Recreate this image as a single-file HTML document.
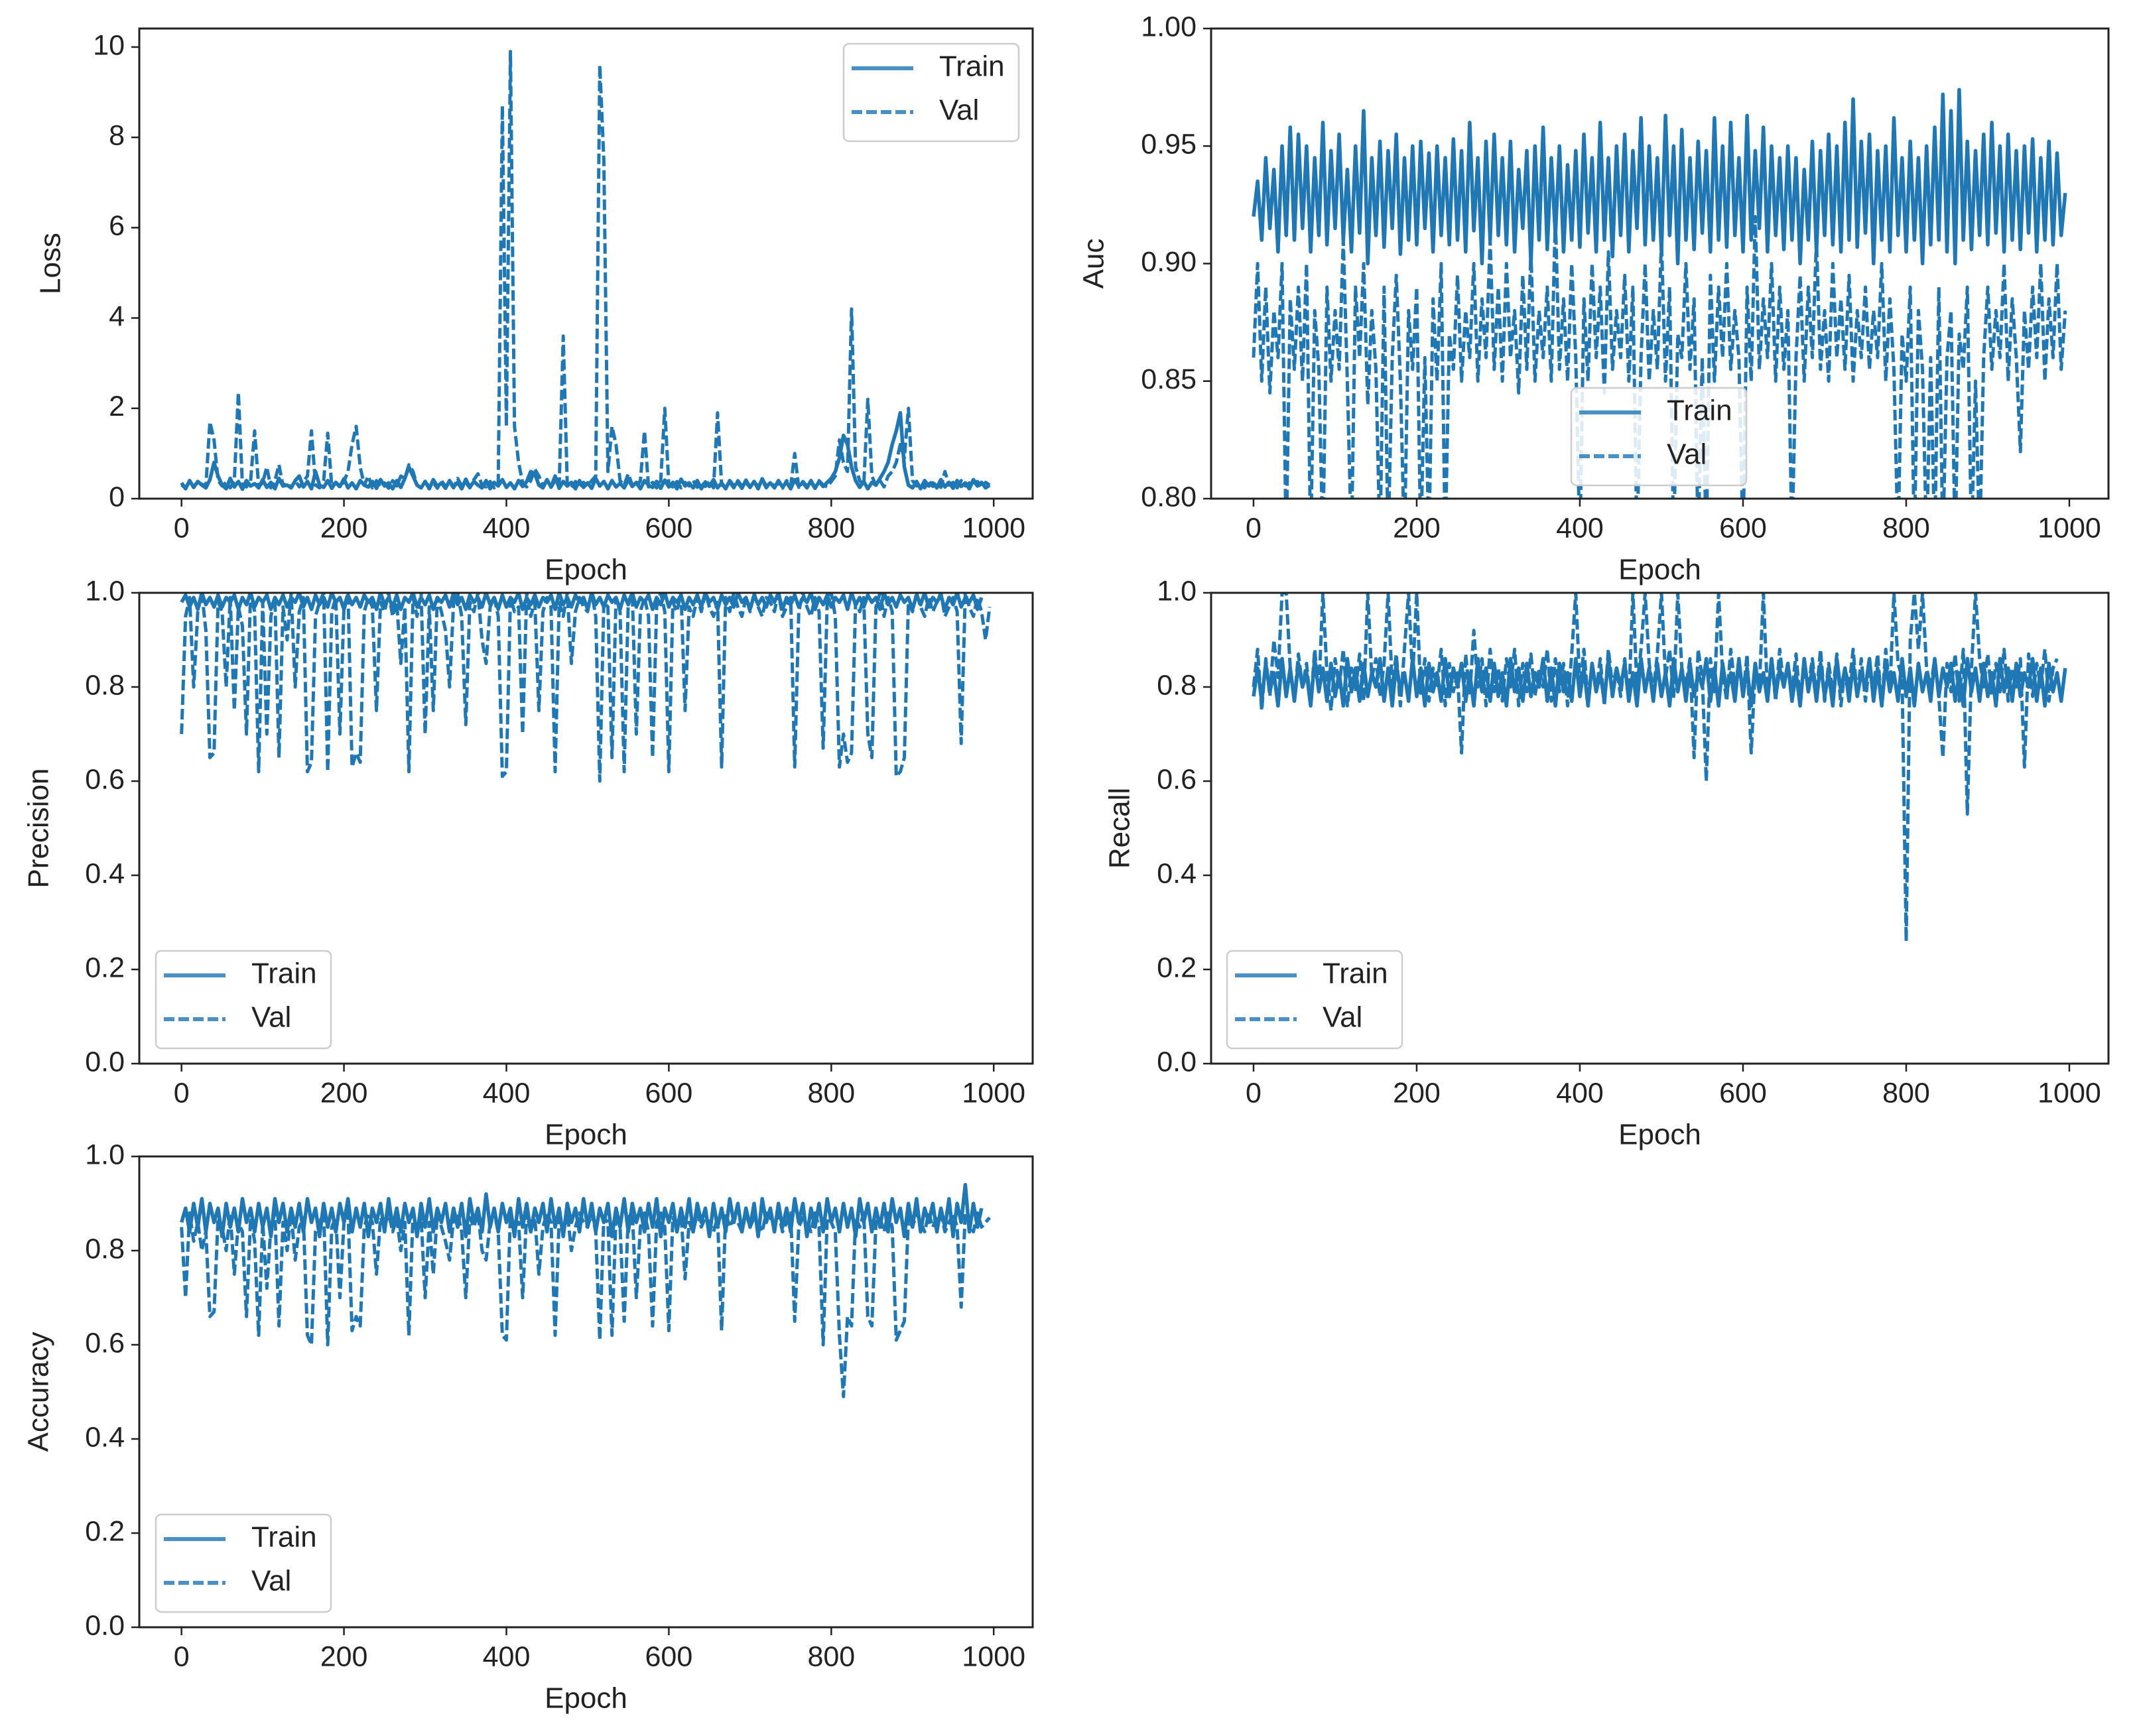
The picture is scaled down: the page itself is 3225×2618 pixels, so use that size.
<!DOCTYPE html>
<html><head><meta charset="utf-8"><style>
html,body{margin:0;padding:0;background:#fff}
svg{display:block}
text{font-family:"Liberation Sans","DejaVu Sans",sans-serif;fill:#222}
</style></head><body>
<svg id="fig" width="3225" height="2618" viewBox="0 0 3225 2618" xmlns="http://www.w3.org/2000/svg"></svg>
<script>
// ---- data (values every 5 epochs, 200 points) ----
const lossTrain=[.35,.22,.4,.25,.38,.3,.24,.42,.8,.5,.3,.22,.45,.26,.38,.21,.4,.28,.33,.24,.42,.25,.36,.22,.45,.28,.3,.24,.4,.5,.26,.38,.22,.6,.3,.25,.4,.23,.36,.27,.44,.24,.35,.22,.4,.3,.26,.38,.23,.42,.28,.35,.22,.4,.25,.45,.7,.5,.3,.24,.38,.22,.42,.27,.35,.23,.4,.26,.36,.22,.43,.25,.38,.3,.24,.4,.22,.36,.28,.42,.25,.35,.22,.4,.27,.38,.6,.55,.3,.24,.42,.26,.5,.23,.38,.28,.36,.22,.4,.25,.35,.23,.45,.28,.38,.22,.4,.26,.34,.24,.42,.27,.36,.22,.4,.3,.25,.38,.23,.41,.26,.36,.22,.43,.28,.35,.24,.4,.22,.37,.27,.42,.24,.35,.22,.4,.28,.36,.23,.41,.25,.38,.22,.44,.27,.35,.24,.4,.26,.36,.22,.42,.28,.35,.24,.4,.23,.38,.27,.36,.45,.6,.9,1.4,1.2,.7,.4,.25,.38,.22,.36,.3,.45,.6,.8,1.2,1.5,1.9,.7,.3,.24,.38,.22,.4,.28,.35,.24,.42,.26,.36,.23,.4,.27,.35,.22,.42,.28,.36,.24,.3];
const lossVal=[.3,.24,.4,.26,.36,.32,.28,1.7,1.3,.4,.28,.36,.24,.4,2.35,.3,.26,.38,1.5,.25,.36,.7,.24,.4,.75,.28,.35,.24,.4,.26,.38,.5,1.5,.3,.24,.4,1.45,.28,.36,.25,.38,.6,1.2,1.6,.7,.3,.5,.24,.4,.27,.35,.23,.4,.28,.5,.45,.75,.6,.3,.24,.38,.26,.35,.23,.4,.27,.36,.24,.45,.28,.36,.24,.42,.55,.3,.26,.38,.24,.35,8.7,1.6,9.9,1.6,.8,.35,.26,.4,.65,.5,.3,.38,.25,.4,.27,3.6,.3,.24,.38,.26,.36,.28,.4,.5,9.6,7.5,.6,1.6,1.2,.4,.3,.55,.3,.25,.4,1.5,.26,.36,.24,.4,2.0,.3,.26,.38,.24,.36,.28,.4,.25,.35,.27,.38,.24,1.9,.3,.26,.36,.24,.4,.28,.35,.25,.38,.27,.4,.24,.36,.28,.35,.23,.4,.27,1.0,.25,.38,.28,.36,.24,.4,.3,.26,.38,.5,1.3,.8,.6,4.2,.7,.4,.3,2.2,.5,.3,.4,.26,.5,.6,.8,1.2,.9,2.0,.4,.28,.36,.24,.4,.27,.35,.25,.6,.3,.36,.24,.4,.28,.35,.26,.38,.25,.36,.3];
const aucTrain=[.92,.935,.91,.945,.915,.94,.905,.95,.912,.958,.91,.955,.915,.95,.905,.945,.912,.96,.908,.948,.915,.955,.91,.94,.905,.95,.913,.965,.9,.945,.912,.952,.907,.948,.915,.955,.904,.945,.91,.95,.908,.952,.915,.947,.905,.95,.912,.945,.908,.953,.91,.948,.905,.96,.914,.945,.9,.952,.91,.955,.912,.945,.908,.952,.905,.94,.915,.948,.9,.95,.91,.958,.906,.945,.912,.95,.905,.942,.91,.948,.907,.955,.913,.945,.905,.96,.91,.945,.903,.95,.912,.955,.905,.948,.915,.962,.908,.95,.91,.945,.905,.963,.912,.95,.9,.957,.91,.945,.906,.952,.913,.948,.905,.962,.91,.95,.907,.96,.912,.945,.905,.963,.91,.948,.915,.958,.905,.95,.912,.945,.906,.95,.91,.945,.9,.94,.91,.952,.905,.948,.912,.955,.908,.95,.905,.96,.91,.97,.907,.952,.913,.955,.9,.948,.91,.95,.905,.962,.912,.945,.905,.952,.91,.945,.9,.95,.908,.958,.91,.972,.905,.965,.9,.974,.91,.952,.906,.948,.912,.955,.908,.96,.913,.95,.905,.955,.91,.948,.906,.95,.913,.953,.905,.945,.91,.952,.908,.947,.912,.93];
const aucVal=[.86,.9,.85,.89,.845,.88,.86,.9,.78,.885,.855,.89,.85,.9,.78,.88,.855,.78,.89,.85,.88,.855,.91,.85,.78,.89,.86,.9,.84,.88,.855,.78,.89,.78,.86,.895,.85,.78,.88,.855,.89,.78,.86,.78,.885,.85,.9,.78,.87,.855,.895,.85,.88,.86,.9,.85,.885,.86,.91,.855,.89,.85,.9,.86,.88,.845,.895,.855,.905,.85,.88,.86,.89,.85,.92,.855,.885,.85,.9,.86,.78,.885,.85,.9,.86,.89,.845,.905,.855,.88,.86,.895,.85,.89,.78,.86,.9,.85,.88,.855,.91,.85,.89,.78,.87,.86,.9,.855,.885,.78,.86,.78,.895,.85,.89,.86,.9,.855,.88,.86,.78,.89,.85,.92,.855,.885,.86,.9,.85,.89,.855,.88,.78,.86,.895,.85,.89,.86,.91,.855,.88,.85,.9,.86,.885,.855,.895,.85,.88,.86,.89,.855,.88,.86,.9,.85,.885,.855,.78,.87,.85,.89,.78,.88,.855,.78,.86,.78,.89,.78,.86,.88,.78,.87,.855,.89,.78,.85,.78,.86,.89,.855,.88,.86,.9,.85,.885,.86,.82,.88,.855,.89,.86,.9,.85,.885,.86,.9,.855,.88];
const precTrain=[.98,.995,.97,.99,.965,1,.975,.99,.97,.995,.97,.99,.98,.995,.965,.99,.975,1,.97,.99,.98,.995,.965,.99,.975,.995,.97,.99,.98,1,.97,.99,.965,.995,.975,.99,.97,1,.98,.99,.965,.995,.975,.99,.97,.995,.98,.99,.965,1,.975,.99,.97,.995,.965,.99,.98,1,.97,.99,.975,.995,.965,.99,.98,.995,.97,1,.975,.99,.965,.995,.98,.99,.97,1,.975,.99,.965,.995,.97,.99,.98,1,.965,.99,.975,.995,.97,.99,.98,.995,.965,1,.975,.99,.97,.995,.98,.99,.965,1,.975,.99,.97,.995,.98,.99,.965,.995,.975,1,.97,.99,.98,.995,.965,.99,.975,1,.97,.99,.98,.995,.965,.99,.975,.995,.97,1,.98,.99,.965,.995,.975,.99,.97,1,.98,.99,.965,.995,.975,.99,.97,.995,.98,1,.965,.99,.975,.995,.97,.99,.98,1,.965,.99,.975,.995,.97,.99,.98,.995,.965,1,.975,.99,.97,.995,.98,.99,.965,1,.975,.99,.97,.995,.98,.99,.965,.995,.975,1,.97,.99,.98,.995,.965,.99,.975,1,.97,.99,.98,.995,.965,.99];
const precVal=[.7,.95,.99,.8,.96,1,.92,.65,.66,.98,.96,.8,.99,.75,.97,.93,.7,1,.96,.62,.98,.7,.95,.99,.65,.97,.9,1,.8,.96,.99,.62,.64,.95,.98,1,.62,.96,.99,.7,.97,1,.63,.66,.64,.96,.99,.97,.75,.98,.96,1,.95,.98,.85,.97,.62,.99,.95,1,.7,.97,.75,.99,.96,.92,.8,.98,1,.95,.72,.98,.96,1,.9,.85,.97,.99,.95,.61,.62,.99,.96,.97,.7,1,.95,.98,.75,.96,.99,.97,.62,.98,.95,1,.85,.96,.99,.97,.96,1,.95,.6,.98,.97,.65,.99,.96,.62,.98,1,.7,.96,.99,.95,.65,.97,1,.96,.62,.98,.96,1,.75,.97,.95,.99,.96,1,.97,.95,.98,.63,.99,.96,1,.97,.95,.99,.96,1,.97,.95,.99,.98,.96,1,.95,.97,.99,.63,.96,1,.97,.95,.99,.96,.67,.98,1,.95,.63,.7,.64,.66,.98,.96,.99,.7,.65,.97,1,.95,.99,.96,.61,.62,.65,.98,.96,1,.97,.95,.99,.96,.98,1,.95,.97,.99,.96,.68,1,.97,.95,.99,.96,.9,.97];
const recTrain=[.78,.84,.77,.85,.79,.83,.76,.86,.78,.84,.77,.85,.8,.83,.76,.86,.79,.84,.77,.85,.78,.83,.76,.86,.79,.84,.77,.85,.78,.83,.8,.86,.77,.84,.76,.85,.79,.83,.77,.86,.78,.84,.76,.85,.79,.83,.77,.86,.78,.84,.8,.85,.77,.83,.76,.86,.79,.84,.77,.85,.78,.83,.76,.86,.79,.84,.77,.85,.78,.83,.8,.86,.77,.84,.76,.85,.79,.83,.77,.86,.78,.84,.76,.85,.79,.83,.77,.86,.78,.84,.8,.85,.77,.83,.76,.86,.79,.84,.77,.85,.78,.83,.76,.86,.79,.84,.77,.85,.78,.83,.8,.86,.77,.84,.76,.85,.79,.83,.77,.86,.78,.84,.76,.85,.79,.83,.77,.86,.78,.84,.8,.85,.77,.83,.76,.86,.79,.84,.77,.85,.78,.83,.76,.86,.79,.84,.77,.85,.78,.83,.8,.86,.77,.84,.76,.85,.79,.83,.77,.86,.78,.84,.76,.85,.79,.83,.77,.86,.78,.84,.8,.85,.77,.83,.76,.86,.79,.84,.77,.85,.78,.83,.76,.86,.79,.84,.77,.85,.78,.83,.8,.86,.77,.84,.76,.85,.79,.83,.77,.84];
const recVal=[.8,.88,.75,.86,.78,.9,.82,1,1,.84,.77,.87,.8,.85,.76,.88,.79,1,.83,.75,.86,.8,.88,.76,.84,.79,.87,.77,1,.82,.86,.78,.85,1,.8,.87,.76,.88,1,.82,1,.78,.86,.77,.84,.8,.88,.76,.85,.79,.83,.66,.87,.78,.92,.8,.86,.76,.88,.79,.84,.77,.86,.8,.88,.76,.85,.79,.87,.78,.84,.8,.88,.77,.86,.79,.85,.76,.87,1,.8,.88,.77,.85,.79,.86,.76,.88,.8,.84,.78,.86,.77,1,.8,.88,1,.85,.79,.87,1,.82,.88,.78,1,.84,.8,.86,.65,.88,.82,.6,.86,.79,1,.83,.77,.88,.8,.85,.78,.87,.66,.84,.8,1,.78,.86,.77,.88,.8,.85,.79,.87,.77,.84,.8,.86,.78,.88,.77,.85,.79,.87,.76,.84,.8,.88,.78,.86,.77,.85,.8,.87,.76,.88,.79,1,.85,.82,.26,.9,1,.88,1,.84,.8,.86,.78,.65,.85,.79,.87,.77,.88,.53,.84,1,.86,.8,.87,.78,.85,.79,.88,.77,.84,.8,.86,.63,.87,.78,.85,.8,.88,.77,.84,.86];
const accTrain=[.86,.89,.84,.9,.85,.91,.84,.9,.86,.89,.83,.9,.85,.89,.84,.91,.86,.89,.84,.9,.85,.89,.83,.91,.86,.9,.84,.89,.85,.9,.84,.91,.86,.89,.83,.9,.85,.89,.84,.9,.86,.91,.84,.89,.85,.9,.83,.89,.86,.9,.84,.91,.85,.89,.84,.9,.86,.89,.83,.9,.85,.91,.84,.89,.86,.9,.84,.89,.85,.9,.83,.91,.86,.89,.84,.92,.85,.89,.84,.9,.86,.89,.83,.91,.85,.9,.84,.89,.86,.9,.84,.91,.85,.89,.83,.9,.86,.89,.84,.91,.85,.9,.84,.89,.86,.9,.83,.89,.85,.91,.84,.9,.86,.89,.84,.9,.85,.91,.83,.89,.86,.9,.84,.89,.85,.91,.84,.9,.86,.89,.83,.9,.85,.89,.84,.91,.86,.9,.84,.89,.85,.9,.83,.91,.86,.89,.84,.9,.85,.89,.84,.91,.86,.9,.83,.89,.85,.9,.84,.91,.86,.89,.84,.9,.85,.89,.83,.91,.86,.9,.84,.89,.85,.9,.84,.91,.86,.89,.83,.9,.85,.91,.84,.89,.86,.9,.84,.89,.85,.91,.83,.9,.86,.94,.84,.9,.85,.89];
const accVal=[.85,.7,.88,.82,.86,.8,.84,.66,.67,.87,.85,.8,.88,.75,.86,.84,.66,.87,.82,.62,.86,.72,.85,.88,.64,.86,.8,.88,.78,.85,.87,.62,.6,.84,.86,.88,.6,.85,.87,.7,.86,.88,.63,.66,.64,.85,.88,.86,.75,.87,.85,.88,.84,.87,.8,.86,.62,.88,.84,.87,.7,.86,.75,.88,.85,.82,.78,.87,.88,.84,.7,.87,.85,.88,.8,.78,.86,.88,.84,.62,.61,.88,.85,.86,.7,.88,.84,.87,.75,.85,.88,.86,.62,.87,.84,.88,.8,.85,.88,.86,.85,.88,.84,.61,.87,.86,.62,.88,.85,.65,.87,.88,.7,.85,.88,.84,.64,.86,.88,.85,.63,.87,.85,.88,.74,.86,.84,.88,.85,.87,.86,.84,.87,.63,.88,.85,.87,.86,.84,.88,.85,.87,.86,.84,.88,.87,.85,.88,.84,.86,.88,.65,.85,.87,.86,.84,.88,.85,.6,.87,.86,.84,.62,.49,.66,.64,.87,.85,.88,.66,.64,.86,.87,.84,.88,.85,.61,.63,.65,.87,.85,.88,.86,.84,.88,.85,.87,.88,.84,.86,.88,.85,.68,.88,.86,.84,.88,.85,.86,.87];
const xTickLabels=["0","200","400","600","800","1000"];
const lossTicks=["0","2","4","6","8","10"];
const aucTicks=["0.80","0.85","0.90","0.95","1.00"];
const unitTicks=["0.0","0.2","0.4","0.6","0.8","1.0"];

const NS="http://www.w3.org/2000/svg";
const svg=document.getElementById('fig');
const COLOR="#1f77b4";
function mk(tag,attrs,parent){const e=document.createElementNS(NS,tag);for(const k in attrs)e.setAttribute(k,attrs[k]);(parent||svg).appendChild(e);return e;}

function panel(p){
  const g=mk('g',{});
  
  
  const sx=v=>p.x0+(v-(-52))/(1100)*(p.x1-p.x0);
  const sy=v=>p.y1-(v-p.ymin)/(p.ymax-p.ymin)*(p.y1-p.y0);
  const cid='clip-'+p.name;
  const cp=mk('clipPath',{id:cid},g);
  mk('rect',{x:p.x0,y:p.y0,width:p.x1-p.x0,height:p.y1-p.y0},cp);
  const drawSeries=(arr,dashed,nm)=>{
    let d='';arr.forEach((v,i)=>{d+=(i?'L':'M')+sx(i*5).toFixed(1)+' '+sy(v).toFixed(1);});
    const path=mk('path',{d:d,fill:'none',stroke:COLOR,'stroke-width':dashed?5:5.5,'stroke-linejoin':'round','clip-path':'url(#'+cid+')'},g);
    if(dashed)path.setAttribute('stroke-dasharray','16 6');
    
    
  };
  drawSeries(p.train,false,p.name+'-train-line');
  drawSeries(p.val,true,p.name+'-val-line');
  const fr=mk('rect',{x:p.x0,y:p.y0,width:p.x1-p.x0,height:p.y1-p.y0,fill:'none',stroke:'#222','stroke-width':3},g);
  
  
  xTickLabels.forEach(l=>{
    const v=+l,x=sx(v);
    mk('line',{x1:x,x2:x,y1:p.y1,y2:p.y1+12,stroke:'#222','stroke-width':2.5},g);
    const t=mk('text',{x:x,y:p.y1+47,'text-anchor':'middle','dominant-baseline':'middle','font-size':43},g);
    t.textContent=l;
    
    
  });
  p.ticks.forEach(l=>{
    const y=sy(+l);
    mk('line',{x1:p.x0-12,x2:p.x0,y1:y,y2:y,stroke:'#222','stroke-width':2.5},g);
    const t=mk('text',{x:p.x0-22,y:y,'text-anchor':'end','dominant-baseline':'middle','font-size':43},g);
    t.textContent=l;
    
    
  });
  const xl=mk('text',{x:(p.x0+p.x1)/2,y:p.y1+110,'text-anchor':'middle','dominant-baseline':'middle','font-size':44},g);
  xl.textContent='Epoch';
  
  
  const yc=(p.y0+p.y1)/2, yx=p.x0+p.ylabOff;
  const yl=mk('text',{x:yx,y:yc,'text-anchor':'middle','dominant-baseline':'middle','font-size':44,transform:'rotate(-90 '+yx+' '+yc+')'},g);
  yl.textContent=p.ylabel;
  
  
  const L=p.leg;
  const lg=mk('g',{},g);
  
  
  mk('rect',{x:L.x,y:L.y,width:264,height:147,rx:8,fill:'#fff','fill-opacity':0.85,stroke:'#ccc','stroke-width':2.5},lg);
  [['Train',false,37],['Val',true,103]].forEach(([lab,dash,dy])=>{
    const ln=mk('line',{x1:L.x+12,x2:L.x+105,y1:L.y+dy,y2:L.y+dy,stroke:'#4a90c4','stroke-width':6},lg);
    if(dash)ln.setAttribute('stroke-dasharray','16 6');
    
    
    const t=mk('text',{x:L.x+144,y:L.y+dy,'dominant-baseline':'middle','font-size':44},lg);
    t.textContent=lab;
    
    
  });
}
const L0=210,L1=1557,R0=1826,R1=3179;
panel({name:'loss',x0:L0,x1:L1,y0:43,y1:752,ymin:0,ymax:10.41,ticks:lossTicks,train:lossTrain,val:lossVal,ylabel:'Loss',ylabOff:-131,leg:{x:1272,y:66}});
panel({name:'auc',x0:R0,x1:R1,y0:43,y1:752,ymin:0.8,ymax:1.0,ticks:aucTicks,train:aucTrain,val:aucVal,ylabel:'Auc',ylabOff:-174,leg:{x:2369,y:585}});
panel({name:'precision',x0:L0,x1:L1,y0:894,y1:1604,ymin:0,ymax:1,ticks:unitTicks,train:precTrain,val:precVal,ylabel:'Precision',ylabOff:-149,leg:{x:235,y:1434}});
panel({name:'recall',x0:R0,x1:R1,y0:894,y1:1604,ymin:0,ymax:1,ticks:unitTicks,train:recTrain,val:recVal,ylabel:'Recall',ylabOff:-135,leg:{x:1850,y:1434}});
panel({name:'accuracy',x0:L0,x1:L1,y0:1744,y1:2454,ymin:0,ymax:1,ticks:unitTicks,train:accTrain,val:accVal,ylabel:'Accuracy',ylabOff:-149,leg:{x:235,y:2284}});
</script>
</body></html>
